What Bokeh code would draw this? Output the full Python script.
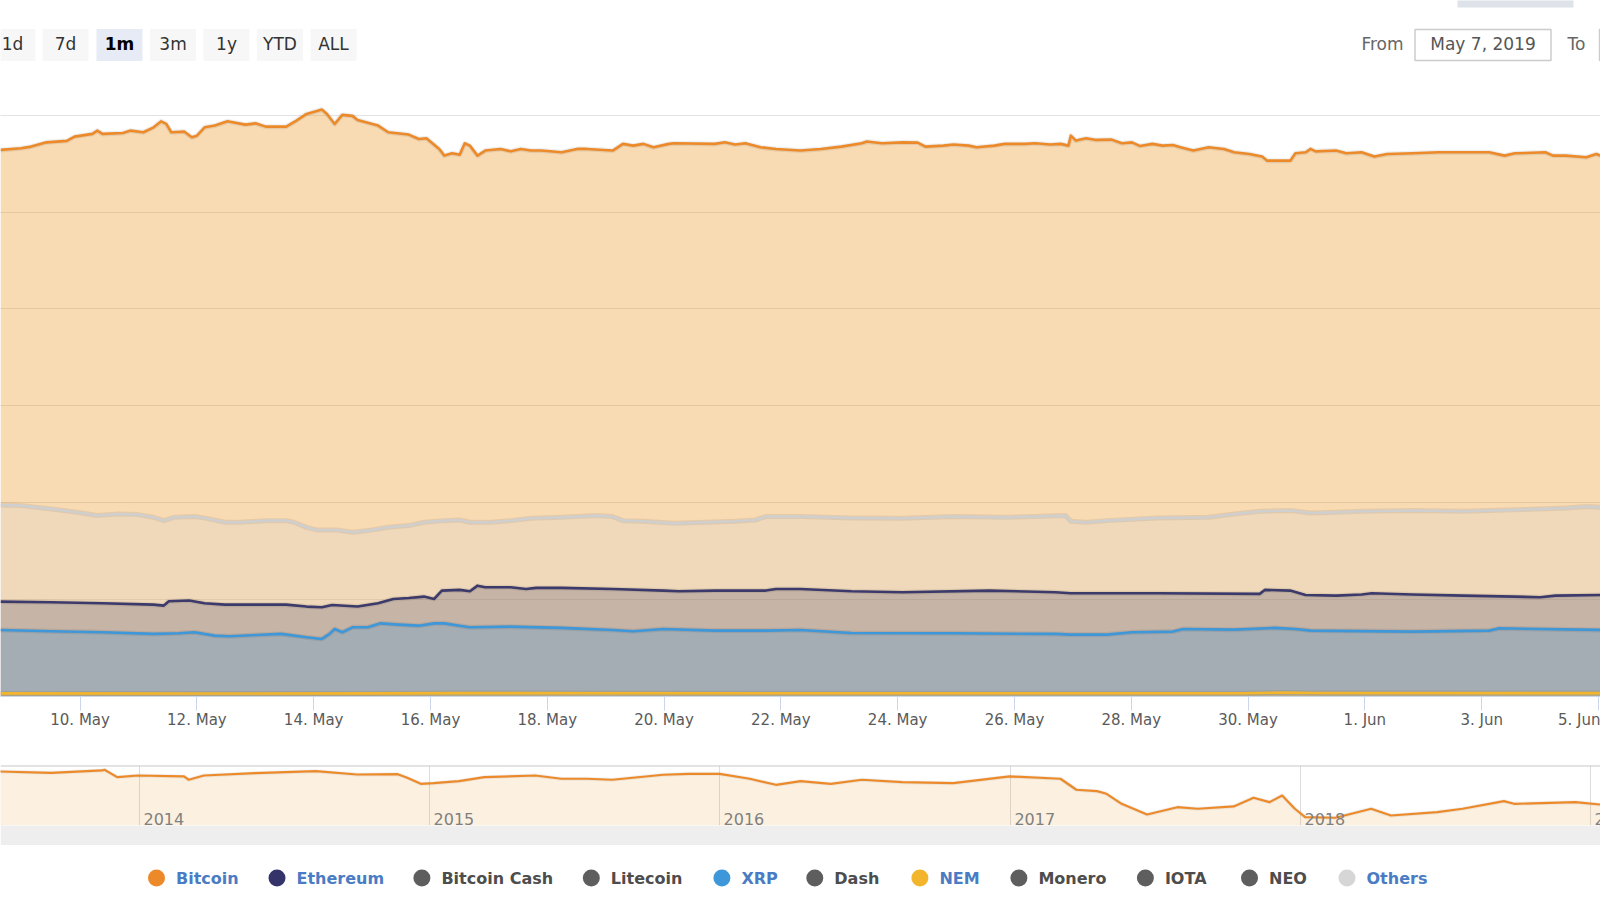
import numpy as np
import pandas as pd
from bokeh.plotting import figure
from bokeh.layouts import column
from bokeh.models import Range1d, FixedTicker, DatetimeTickFormatter, Grid, Span
from bokeh.core.properties import value
from bokeh.embed import file_html
from bokeh.resources import INLINE

FONT = "DejaVu Sans"

# ---------------- data (dominance, % of total market cap) ----------------
# x values are fractional "day of May 2019" (32 = 1 Jun)
btc_day = [8.637, 8.986, 9.161, 9.423, 9.772, 9.904, 10.209, 10.296, 10.384, 10.733,
           10.865, 11.084, 11.259, 11.389, 11.476, 11.563, 11.782, 11.913, 12.000, 12.132,
           12.307, 12.524, 12.831, 13.005, 13.180, 13.529, 13.704, 13.878, 14.140, 14.228,
           14.360, 14.490, 14.664, 14.752, 15.103, 15.277, 15.627, 15.801, 15.931, 16.151,
           16.238, 16.368, 16.500, 16.587, 16.675, 16.805, 16.937, 17.199, 17.373, 17.548,
           17.723, 17.897, 18.246, 18.509, 18.683, 19.120, 19.295, 19.471, 19.646, 19.820,
           20.082, 20.170, 20.868, 21.043, 21.217, 21.392, 21.654, 21.916, 22.336,
           22.685, 23.034, 23.384, 23.471, 23.733, 24.082, 24.344, 24.476, 24.782, 24.957,
           25.219, 25.349, 25.656, 25.831, 26.180, 26.355, 26.616, 26.791, 26.923, 26.966,
           27.053, 27.228, 27.402, 27.665, 27.839, 28.014, 28.145, 28.363, 28.538, 28.712,
           28.844, 29.063, 29.325, 29.587, 29.762, 30.024, 30.241, 30.329, 30.548, 30.722,
           30.810, 30.984, 31.072, 31.159, 31.508, 31.683, 31.945, 32.164, 32.382, 32.818,
           33.257, 33.693, 34.130, 34.392, 34.567, 35.091, 35.223, 35.440, 35.790, 35.965,
           36.035]
btc_val = [56.41, 56.58, 56.75, 57.19, 57.34, 57.78, 58.06, 58.40, 58.06, 58.16,
           58.40, 58.23, 58.74, 59.36, 59.09, 58.23, 58.30, 57.71, 57.88, 58.74,
           58.92, 59.36, 59.02, 59.15, 58.81, 58.81, 59.43, 60.12, 60.57, 60.12,
           59.09, 60.02, 59.92, 59.50, 58.92, 58.23, 57.99, 57.54, 57.61, 56.51,
           55.82, 56.06, 55.92, 57.09, 56.85, 55.82, 56.34, 56.51, 56.26, 56.51,
           56.34, 56.34, 56.16, 56.51, 56.51, 56.34, 57.03, 56.85, 57.03, 56.68,
           57.03, 57.09, 57.03, 57.19, 56.96, 57.09, 56.68, 56.51, 56.34,
           56.51, 56.75, 57.09, 57.27, 57.09, 57.19, 57.16, 56.75, 56.85, 56.96,
           56.85, 56.68, 56.85, 57.03, 57.03, 57.09, 56.96, 57.03, 56.85, 57.88,
           57.37, 57.61, 57.44, 57.47, 57.09, 57.19, 56.82, 57.03, 56.85, 56.92,
           56.68, 56.34, 56.68, 56.51, 56.16, 55.99, 55.72, 55.30, 55.30, 55.30,
           56.06, 56.16, 56.51, 56.26, 56.34, 56.06, 56.16, 55.72, 55.99, 56.06,
           56.16, 56.16, 56.16, 55.82, 56.06, 56.16, 55.82, 55.82, 55.65, 55.99,
           55.82]

oth_day = [8.637, 8.986, 9.510, 9.947, 10.296, 10.646, 10.996, 11.259, 11.433, 11.608,
           11.957, 12.132, 12.481, 12.743, 13.180, 13.529, 13.661, 13.878, 14.053, 14.402,
           14.664, 14.926, 15.277, 15.627, 15.889, 16.238, 16.500, 16.675, 17.024, 17.373,
           17.723, 18.246, 18.858, 19.120, 19.295, 19.646, 20.170, 20.694, 21.217, 21.567,
           21.742, 22.336,
           23.209, 24.082, 24.957, 25.831, 26.878, 26.966, 27.228, 27.577, 28.450, 29.325,
           29.762, 30.199, 30.722, 31.072, 31.508, 31.945, 32.818, 33.693, 34.567, 35.440,
           35.790, 36.035]
oth_val = [19.77, 19.70, 19.36, 19.01, 18.67, 18.84, 18.77, 18.49, 18.15, 18.49,
           18.57, 18.43, 17.98, 17.98, 18.15, 18.15, 17.98, 17.46, 17.19, 17.19,
           16.95, 17.12, 17.46, 17.64, 17.98, 18.15, 18.22, 17.98, 17.98, 18.15,
           18.39, 18.49, 18.67, 18.57, 18.15, 18.08, 17.87, 17.98, 18.08, 18.22,
           18.57, 18.57,
           18.43, 18.39, 18.57, 18.49, 18.67, 18.08, 17.98, 18.15, 18.43, 18.49,
           18.84, 19.12, 19.19, 18.94, 19.01, 19.12, 19.19, 19.12, 19.26, 19.46,
           19.60, 19.53]

eth_day = [8.637, 9.510, 10.384, 11.259, 11.433, 11.520, 11.869, 12.132, 12.481, 13.005,
           13.529, 13.878, 14.140, 14.315, 14.752, 15.101, 15.363, 15.627, 15.889, 16.063,
           16.194, 16.500, 16.675, 16.806, 16.936, 17.373, 17.636, 17.810, 18.246, 19.120,
           19.994, 20.256, 20.868, 21.742, 21.917, 22.336,
           23.209, 24.082, 25.569, 26.704, 26.966, 28.450, 30.199, 30.286, 30.722, 30.984,
           31.508, 31.945, 32.120, 32.818, 33.693, 34.567, 35.003, 35.265, 36.035]
eth_val = [9.79, 9.72, 9.62, 9.48, 9.38, 9.83, 9.90, 9.62, 9.48, 9.48,
           9.48, 9.28, 9.21, 9.45, 9.28, 9.62, 10.07, 10.17, 10.31, 10.07,
           10.93, 11.00, 10.86, 11.44, 11.27, 11.27, 11.10, 11.21, 11.21, 11.10,
           10.93, 10.86, 10.93, 10.93, 11.10, 11.10,
           10.86, 10.76, 10.93, 10.76, 10.65, 10.65, 10.59, 11.00, 10.93, 10.48,
           10.41, 10.52, 10.65, 10.52, 10.41, 10.31, 10.24, 10.41, 10.48]

xrp_day = [8.637, 9.510, 10.384, 11.259, 11.694, 11.957, 12.306, 12.568, 13.005, 13.441,
           13.878, 14.140, 14.271, 14.359, 14.490, 14.664, 14.926, 15.145, 15.451, 15.800,
           16.063, 16.237, 16.500, 16.675, 17.373, 18.246, 19.120, 19.470, 19.994, 20.868,
           21.742, 22.336,
           23.209, 24.957, 26.704, 26.966, 27.577, 28.014, 28.712, 28.887, 29.761, 30.460,
           30.810, 31.072, 32.818, 34.130, 34.304, 36.035]
xrp_val = [6.87, 6.73, 6.63, 6.46, 6.52, 6.63, 6.28, 6.21, 6.35, 6.46,
           6.11, 5.94, 6.46, 6.97, 6.63, 7.14, 7.14, 7.55, 7.42, 7.31,
           7.55, 7.55, 7.31, 7.14, 7.21, 7.08, 6.87, 6.73, 6.97, 6.80,
           6.80, 6.87,
           6.56, 6.52, 6.46, 6.39, 6.39, 6.63, 6.70, 6.97, 6.90, 7.08,
           6.97, 6.80, 6.70, 6.80, 7.04, 6.87]

nem_day = [8.637, 12.0, 15.0, 16.5, 22.3, 29.9, 30.6, 31.2, 36.035]
nem_val = [0.32, 0.31, 0.32, 0.35, 0.34, 0.34, 0.40, 0.36, 0.35]

tick_dates = ["2019-05-10", "2019-05-12", "2019-05-14", "2019-05-16", "2019-05-18",
              "2019-05-20", "2019-05-22", "2019-05-24", "2019-05-26", "2019-05-28",
              "2019-05-30", "2019-06-01", "2019-06-03", "2019-06-05"]

# navigator: Bitcoin dominance, full history
nav_dates = ["2013-07-09", "2013-09-12", "2013-11-15", "2013-11-18", "2013-12-04", "2013-12-30",
             "2014-02-26", "2014-03-04", "2014-03-23", "2014-05-26", "2014-08-11", "2014-10-02",
             "2014-11-22", "2014-12-04", "2014-12-21", "2015-01-06", "2015-02-07", "2015-03-11",
             "2015-05-14", "2015-06-16", "2015-07-18", "2015-08-19", "2015-10-22", "2015-11-23",
             "2016-01-01", "2016-02-08", "2016-03-12", "2016-04-12", "2016-05-20", "2016-06-28",
             "2016-08-18", "2016-10-21", "2016-12-31", "2017-03-05", "2017-03-25", "2017-04-20",
             "2017-05-02", "2017-05-21", "2017-06-22", "2017-07-30", "2017-08-25", "2017-10-09",
             "2017-11-03", "2017-11-23", "2017-12-09", "2017-12-25", "2018-01-07", "2018-02-14",
             "2018-03-31", "2018-04-25", "2018-06-22", "2018-07-24", "2018-09-14", "2018-09-27",
             "2018-12-13", "2019-01-13"]
nav_btc = [92.8, 91.1, 94.1, 95.0, 85.5, 87.6,
           86.4, 82.1, 87.6, 90.6, 93.2, 88.9,
           89.3, 84.7, 76.9, 77.7, 80.3, 85.5,
           87.6, 83.4, 83.4, 82.1, 88.6, 89.8,
           89.8, 83.4, 75.6, 80.3, 76.9, 82.1,
           79.0, 77.7, 86.4, 83.4, 69.2, 67.4,
           64.0, 51.1, 37.3, 46.7, 44.7, 47.7,
           58.9, 53.2, 61.8, 44.7, 33.9, 33.1,
           44.7, 36.0, 40.3, 44.7, 54.5, 51.1,
           53.2, 50.2]
nav_years = ["2014", "2015", "2016", "2017", "2018", "2019"]

legend_names = ["Bitcoin", "Ethereum", "Bitcoin Cash", "Litecoin", "XRP", "Dash",
                "NEM", "Monero", "IOTA", "NEO", "Others"]
legend_visible = [True, True, False, False, True, False, True, False, False, False, True]

range_buttons = ["1d", "7d", "1m", "3m", "1y", "YTD", "ALL"]
from_date_text = "May 7, 2019"

# ---------------- styles ----------------
C_BTC = "#EC8A2A"
C_ETH = "#34336A"
C_XRP = "#3D97D8"
C_NEM = "#F2B52B"
C_HID = "#5E5E5E"
legend_colors = [C_BTC, C_ETH, C_HID, C_HID, C_XRP, C_HID, C_NEM, C_HID, C_HID, C_HID, "#D6D6D6"]


def may_day(d):
    return pd.Timestamp("2019-05-01") + pd.to_timedelta(np.asarray(d, dtype=float) - 1.0, unit="D")


def ms(ts):
    return pd.Timestamp(ts).value / 1e6


# ---------------- top bar (range selector) ----------------
top = figure(width=1600, height=96, x_range=Range1d(0, 1600), y_range=Range1d(96, 0),
             toolbar_location=None, output_backend="svg",
             min_border_left=0, min_border_right=0, min_border_top=0, min_border_bottom=0,
             x_axis_location=None, y_axis_location=None, outline_line_color=None)
top.grid.visible = False
btn_left = [-11, 42, 96, 149.5, 203, 256.5, 310]
btn_w = 46
btn_fill = ["#F7F7F7"] * 7
btn_fill[2] = "#E6EBF5"
top.quad(left=btn_left, right=[b + btn_w for b in btn_left], top=[28.5] * 7, bottom=[60.5] * 7,
         fill_color=btn_fill, line_color=None)
normal = [i for i in range(7) if i != 2]
TY = 43
top.text(x=[btn_left[i] + btn_w / 2 for i in normal], y=[TY] * len(normal),
         text=[range_buttons[i] for i in normal], text_font=value(FONT), text_font_size="17px",
         text_color="#333333", text_align="center", text_baseline="middle")
top.text(x=[btn_left[2] + btn_w / 2], y=[TY], text=[range_buttons[2]], text_font=value(FONT),
         text_font_size="17px", text_font_style="bold", text_color="#000000",
         text_align="center", text_baseline="middle")
top.text(x=[1403], y=[TY], text=["From"], text_font=value(FONT), text_font_size="17px",
         text_color="#666666", text_align="right", text_baseline="middle")
top.quad(left=[1414.5], right=[1550.5], top=[29], bottom=[60], fill_color="white",
         line_color="#CCCCCC", line_width=1.5)
top.text(x=[1482.5], y=[TY], text=[from_date_text], text_font=value(FONT), text_font_size="17px",
         text_color="#555555", text_align="center", text_baseline="middle")
top.text(x=[1567], y=[TY], text=["To"], text_font=value(FONT), text_font_size="17px",
         text_color="#666666", text_align="left", text_baseline="middle")
top.quad(left=[1599], right=[1650], top=[29], bottom=[60], fill_color="white",
         line_color="#CCCCCC", line_width=1.5)
top.quad(left=[1457], right=[1573], top=[-5], bottom=[7], fill_color="#DEE3E9", line_color=None)

# ---------------- main chart ----------------
p = figure(width=1600, height=669, x_axis_type="datetime",
           x_range=Range1d(may_day(8.637), may_day(36.035)), y_range=Range1d(0, 61.92),
           toolbar_location=None, output_backend="svg",
           min_border_left=0, min_border_right=0, min_border_top=0, min_border_bottom=69,
           y_axis_location=None, outline_line_color=None)
p.xgrid.visible = False
p.add_layout(Grid(dimension=1, ticker=FixedTicker(ticks=[10, 20, 30, 40, 50, 60]),
                  grid_line_color="#E3E3E3", grid_line_width=1))

series = [
    (btc_day, btc_val, C_BTC, "#EA8F19", 0.33),
    (oth_day, oth_val, "#CFCFCF", "#D7D7D7", 0.22),
    (eth_day, eth_val, "#3B3A6B", "#34325F", 0.22),
    (xrp_day, xrp_val, C_XRP, "#3A96DD", 0.24),
    (nem_day, nem_val, C_NEM, "#F4B731", 0.30),
]
for d, v, lc, fc, fa in series:
    xs = may_day(d)
    p.varea(x=xs, y1=0, y2=v, fill_color=fc, fill_alpha=fa)
    p.line(x=xs, y=v, line_color="black", line_alpha=0.07, line_width=5, line_join="round")
    p.line(x=xs, y=v, line_color=lc, line_width=2.6, line_join="round")

ax = p.xaxis[0]
ax.ticker = FixedTicker(ticks=[ms(t) for t in tick_dates])
ax.formatter = DatetimeTickFormatter(days="%-d. %b", months="%-d. %b", hours="%-d. %b")
ax.axis_line_color = "#CCD6EB"
ax.major_tick_line_color = "#CCD6EB"
ax.major_tick_out = 14
ax.major_tick_in = 0
ax.minor_tick_line_color = None
ax.major_label_text_color = "#5A5A5A"
ax.major_label_text_font = FONT
ax.major_label_text_font_size = "15px"
ax.major_label_standoff = 0

# ---------------- navigator ----------------
nav_x = pd.to_datetime(nav_dates)
n0 = pd.Timestamp("2014-01-01") - pd.Timedelta(days=174.9)
n1 = pd.Timestamp("2019-01-01") + pd.Timedelta(days=12.6)
nav = figure(width=1600, height=80, x_axis_type="datetime", x_range=Range1d(n0, n1),
             y_range=Range1d(23.1, 100.5), toolbar_location=None, output_backend="svg",
             min_border_left=0, min_border_right=0, min_border_top=0, min_border_bottom=20,
             x_axis_location=None, y_axis_location=None, outline_line_color=None,
             border_fill_color="#EEEEEE", background_fill_color="white")
nav.grid.visible = False
year_ticks = [ms(y + "-01-01") for y in nav_years]
nav.add_layout(Grid(dimension=0, ticker=FixedTicker(ticks=year_ticks),
                    grid_line_color="#DDDDDD", grid_line_width=1))
nav.varea(x=nav_x, y1=23.1, y2=nav_btc, fill_color="#EA8F19", fill_alpha=0.13)
nav.line(x=nav_x, y=nav_btc, line_color="black", line_alpha=0.06, line_width=4, line_join="round")
nav.line(x=nav_x, y=nav_btc, line_color=C_BTC, line_width=2.2, line_join="round")
nav.add_layout(Span(location=100.5, dimension="width", line_color="#C8C8C8", line_width=2))
nav.text(x=pd.to_datetime([y + "-01-01" for y in nav_years]), y=[23.1] * len(nav_years),
         text=nav_years, x_offset=4, y_offset=-7, text_font=value(FONT), text_font_size="16px",
         text_color="#808080", text_align="left", text_baseline="alphabetic")

# ---------------- legend ----------------
leg = figure(width=1600, height=55, x_range=Range1d(0, 1600), y_range=Range1d(55, 0),
             toolbar_location=None, output_backend="svg",
             min_border_left=0, min_border_right=0, min_border_top=0, min_border_bottom=0,
             x_axis_location=None, y_axis_location=None, outline_line_color=None)
leg.grid.visible = False
legend_marker_x = [156, 276.5, 421.4, 590.8, 721.4, 814.3, 919.4, 1018.4, 1144.9, 1249, 1346.5]
leg.scatter(x=legend_marker_x, y=[32.5] * len(legend_names), marker="circle", size=17,
            fill_color=legend_colors, line_color=None)
leg.text(x=[m + 19.5 for m in legend_marker_x], y=[33] * len(legend_names), text=legend_names,
         text_font=value(FONT), text_font_size="16px", text_font_style="bold",
         text_color=["#4A7CC4" if v else "#4D4D4D" for v in legend_visible],
         text_align="left", text_baseline="middle")

layout = column(top, p, nav, leg, spacing=0)
open("out.html", "w").write(file_html(layout, INLINE))
